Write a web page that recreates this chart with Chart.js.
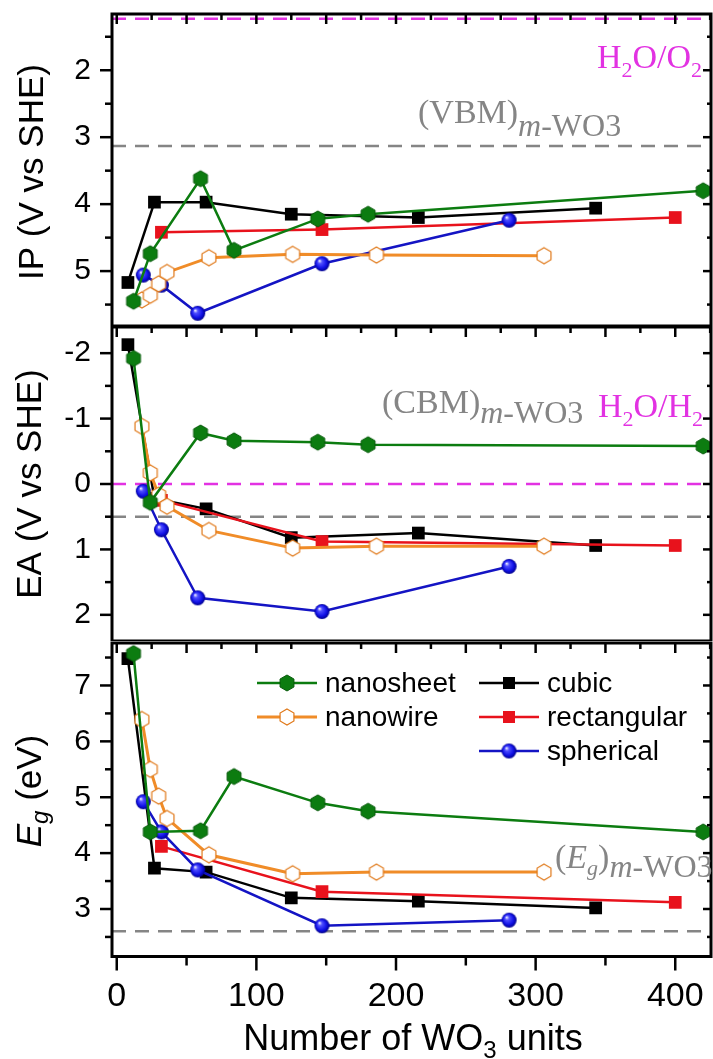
<!DOCTYPE html>
<html>
<head>
<meta charset="utf-8">
<script src="https://cdn.jsdelivr.net/npm/chart.js@4.4.1/dist/chart.umd.min.js"></script>
<style>
  body { margin: 0; background: #fff; }
  #wrap { position: relative; width: 713px; height: 1059px; overflow: hidden; }
  canvas { position: absolute; left: 0; }
</style>
</head>
<body>
<div id="wrap">
  <canvas id="cIP" width="713" height="326" style="top:0px"></canvas>
  <canvas id="cEA" width="713" height="315" style="top:326px"></canvas>
  <canvas id="cEg" width="713" height="418" style="top:641px"></canvas>
</div>
<script>
// x positions (number of WO3 units) per shape
const nanosheetX = [12, 24, 60, 84, 144, 180, 420];
const nanowireX = [18, 24, 30, 36, 66, 126, 186, 306];
const cubicX = [8, 27, 64, 125, 216, 343];
const rectX = [32, 147, 400];
const sphericalX = [19, 32, 58, 147, 281];

// IP (V vs SHE)
const nanosheetIP = [5.45, 4.74, 3.62, 4.69, 4.22, 4.15, 3.80];
const nanowireIP = [5.43, 5.36, 5.19, 5.02, 4.80, 4.75, 4.76, 4.77];
const cubicIP = [5.17, 3.97, 3.97, 4.15, 4.20, 4.06];
const rectIP = [4.42, 4.38, 4.20];
const sphericalIP = [5.06, 5.21, 5.63, 4.89, 4.24];

// EA (V vs SHE)
const nanosheetEA = [-1.92, 0.28, -0.78, -0.66, -0.64, -0.60, -0.58];
const nanowireEA = [-0.88, -0.17, 0.17, 0.34, 0.71, 0.98, 0.95, 0.95];
const cubicEA = [-2.13, 0.22, 0.38, 0.82, 0.75, 0.94];
const rectEA = [0.25, 0.88, 0.94];
const sphericalEA = [0.11, 0.70, 1.74, 1.95, 1.26];

// Eg (eV)
const nanosheetEg = [7.57, 4.38, 4.40, 5.37, 4.90, 4.75, 4.38];
const nanowireEg = [6.39, 5.50, 5.02, 4.62, 3.97, 3.63, 3.66, 3.66];
const cubicEg = [7.48, 3.73, 3.66, 3.20, 3.14, 3.02];
const rectEg = [4.12, 3.31, 3.12];
const sphericalEg = [4.92, 4.38, 3.70, 2.70, 2.80];

// reference levels
const ipWater = 1.23, ipVBM = 3.13;
const eaWater = 0, eaCBM = 0.5;
const egBulk = 2.6;

const xTicks = [0, 100, 200, 300, 400];
const ipTicks = [2, 3, 4, 5];
const eaTicks = [-2, -1, 0, 1, 2];
const egTicks = [3, 4, 5, 6, 7];

const X_MIN = -3.4, X_MAX = 425.6;

const GREEN = '#0c7c10';
const ORANGE = '#f08c28';
const RED = '#e8121c';
const BLUE = '#1414c4';
const MAG = '#e232e2';
const GRAY = '#858585';
const SANS = "'Liberation Sans', Arial, sans-serif";
const SERIF = "'Liberation Serif', 'Times New Roman', serif";

function hexMarker(fill, stroke, d, lw) {
  const c = document.createElement('canvas');
  c.width = c.height = d + 4;
  const g = c.getContext('2d');
  const cx = c.width / 2, r = d / 2;
  g.beginPath();
  for (let i = 0; i < 6; i++) {
    const a = -Math.PI / 2 + i * Math.PI / 3;
    const px = cx + r * Math.cos(a), py = cx + r * Math.sin(a);
    if (i == 0) g.moveTo(px, py); else g.lineTo(px, py);
  }
  g.closePath();
  g.fillStyle = fill;
  g.fill();
  g.lineWidth = lw;
  g.strokeStyle = stroke;
  g.stroke();
  return c;
}

function ballMarker(d) {
  const c = document.createElement('canvas');
  c.width = c.height = d + 2;
  const g = c.getContext('2d');
  const cx = c.width / 2, r = d / 2;
  const grad = g.createRadialGradient(cx - r * 0.35, cx - r * 0.4, r * 0.05, cx, cx, r);
  grad.addColorStop(0, '#eeeeff');
  grad.addColorStop(0.25, '#5050ff');
  grad.addColorStop(0.7, '#1010e6');
  grad.addColorStop(1, '#00008a');
  g.beginPath();
  g.arc(cx, cx, r, 0, Math.PI * 2);
  g.fillStyle = grad;
  g.fill();
  return c;
}

const hexGreen = hexMarker(GREEN, '#075a0a', 16, 1);
const hexOrange = hexMarker('#ffffff', '#e07818', 16, 1.2);
const ball = ballMarker(15);

function pts(xs, ys) {
  return xs.map((x, i) => ({ x: x, y: ys[i] }));
}

function buildSets(ns, nw, cu, re, sp, refs) {
  const sets = [
    { label: 'nanosheet', data: pts(nanosheetX, ns), borderColor: GREEN, pointStyle: hexGreen, order: 0 },
    { label: 'nanowire', data: pts(nanowireX, nw), borderColor: ORANGE, pointStyle: hexOrange, borderWidth: 3, order: 1 },
    { label: 'spherical', data: pts(sphericalX, sp), borderColor: BLUE, pointStyle: ball, order: 2 },
    { label: 'rectangular', data: pts(rectX, re), borderColor: RED, backgroundColor: RED, pointStyle: 'rect', order: 3 },
    { label: 'cubic', data: pts(cubicX, cu), borderColor: '#000', backgroundColor: '#000', pointStyle: 'rect', order: 4 }
  ];
  refs.forEach(r => {
    sets.push({
      label: '', data: [{ x: X_MIN, y: r[0] }, { x: X_MAX, y: r[0] }],
      borderColor: r[1], borderDash: [14, 9], borderWidth: 2.5, pointRadius: 0, order: 10
    });
  });
  return sets;
}

function drawRich(ctx, x, y, parts) {
  ctx.save();
  ctx.textBaseline = 'alphabetic';
  ctx.textAlign = 'left';
  parts.forEach(p => {
    ctx.font = p.f;
    ctx.fillStyle = p.c;
    ctx.fillText(p.t, x, y + (p.dy || 0));
    x += ctx.measureText(p.t).width;
  });
  ctx.restore();
  return x;
}

function richWidth(ctx, parts) {
  let w = 0;
  ctx.save();
  parts.forEach(p => { ctx.font = p.f; w += ctx.measureText(p.t).width; });
  ctx.restore();
  return w;
}

function drawVertical(ctx, cx, cy, parts, base) {
  ctx.save();
  ctx.translate(cx, cy);
  ctx.rotate(-Math.PI / 2);
  const w = richWidth(ctx, parts);
  drawRich(ctx, -w / 2, base, parts);
  ctx.restore();
}

function seg(ctx, x1, y1, x2, y2) {
  ctx.beginPath();
  ctx.moveTo(x1, y1);
  ctx.lineTo(x2, y2);
  ctx.stroke();
}

// box, inner/outer tick marks like the origin plot
const framePlugin = {
  id: 'frame',
  afterDraw(chart) {
    const ctx = chart.ctx, a = chart.chartArea;
    const xs = chart.scales.x, ys = chart.scales.y;
    ctx.save();
    ctx.strokeStyle = '#000';
    ctx.lineWidth = 2.5;
    const lo = Math.ceil(ys.min * 2), hi = Math.floor(ys.max * 2);
    for (let k = lo; k <= hi; k++) {
      const major = k % 2 == 0;
      const py = ys.getPixelForValue(k / 2);
      seg(ctx, a.left - (major ? 12 : 7), py, a.left, py);
      seg(ctx, a.right - (major ? 8 : 4), py, a.right, py);
    }
    for (let v = 0; v <= X_MAX; v += 25) {
      const px = xs.getPixelForValue(v);
      seg(ctx, px, a.top, px, a.top + (v % 50 == 0 ? 10 : 6));
    }
    if (chart.canvas.id == 'cEg') {
      for (let v = 0; v <= X_MAX; v += 50) {
        const px = xs.getPixelForValue(v);
        seg(ctx, px, a.bottom, px, a.bottom + (v % 100 == 0 ? 14 : 9));
      }
    }
    ctx.lineWidth = 3;
    ctx.strokeRect(a.left, a.top, a.right - a.left, a.bottom - a.top);
    ctx.restore();
  }
};

function makeConfig(sets, yMin, yMax, yTicks, reverse, padTop, showX, extra) {
  return {
    type: 'line',
    data: { datasets: sets },
    options: {
      responsive: false,
      animation: false,
      devicePixelRatio: 1,
      layout: { autoPadding: false, padding: { top: padTop, right: 2, left: 0, bottom: 0 } },
      elements: {
        line: { borderWidth: 2.5, tension: 0, fill: false },
        point: { radius: 9, borderWidth: 0, hoverRadius: 9 }
      },
      scales: {
        x: {
          type: 'linear', min: X_MIN, max: X_MAX, display: showX,
          afterBuildTicks: s => { s.ticks = xTicks.map(v => ({ value: v })); },
          afterFit: s => {
            s.height = showX ? 102.5 : 0;
            s.paddingLeft = 0;
            s.paddingRight = 0;
          },
          grid: { display: false, drawTicks: false },
          border: { display: false },
          ticks: { font: { family: SANS, size: 34 }, color: '#000', padding: 20, maxRotation: 0 }
        },
        y: {
          type: 'linear', min: yMin, max: yMax, reverse: reverse,
          afterBuildTicks: s => { s.ticks = yTicks.map(v => ({ value: v })); },
          afterFit: s => {
            s.width = 112;
            s.paddingTop = 0;
            s.paddingBottom = 0;
          },
          grid: { display: false, drawTicks: false },
          border: { display: false },
          ticks: { font: { family: SANS, size: 30 }, color: '#000', padding: 21 }
        }
      },
      plugins: { legend: { display: false }, tooltip: { enabled: false } }
    },
    plugins: [framePlugin, extra]
  };
}

const notesIP = {
  id: 'notesIP',
  afterDraw(chart) {
    const ctx = chart.ctx;
    const big = '34px ' + SERIF, sub = '22px ' + SERIF;
    drawRich(ctx, 597, 68, [
      { t: 'H', f: big, c: MAG }, { t: '2', f: sub, c: MAG, dy: 9 },
      { t: 'O/O', f: big, c: MAG }, { t: '2', f: sub, c: MAG, dy: 9 }
    ]);
    drawRich(ctx, 418, 123, [
      { t: '(VBM)', f: big, c: GRAY },
      { t: 'm', f: 'italic 32px ' + SERIF, c: GRAY, dy: 13 },
      { t: '-WO3', f: '32px ' + SERIF, c: GRAY, dy: 13 }
    ]);
    drawVertical(ctx, 30, 172, [{ t: 'IP (V vs SHE)', f: '35px ' + SANS, c: '#000' }], 12.5);
  }
};

const notesEA = {
  id: 'notesEA',
  afterDraw(chart) {
    const ctx = chart.ctx;
    const big = '34px ' + SERIF, sub = '22px ' + SERIF;
    drawRich(ctx, 382, 413 - 326, [
      { t: '(CBM)', f: big, c: GRAY },
      { t: 'm', f: 'italic 32px ' + SERIF, c: GRAY, dy: 10 },
      { t: '-WO3', f: '32px ' + SERIF, c: GRAY, dy: 10 }
    ]);
    drawRich(ctx, 598, 417 - 326, [
      { t: 'H', f: big, c: MAG }, { t: '2', f: sub, c: MAG, dy: 9 },
      { t: 'O/H', f: big, c: MAG }, { t: '2', f: sub, c: MAG, dy: 9 }
    ]);
    drawVertical(ctx, 28, 484 - 326, [{ t: 'EA (V vs SHE)', f: '35px ' + SANS, c: '#000' }], 12.5);
  }
};

const legendItems = [
  { i: 0, col: 0, row: 0 },
  { i: 1, col: 0, row: 1 },
  { i: 4, col: 1, row: 0 },
  { i: 3, col: 1, row: 1 },
  { i: 2, col: 1, row: 2 }
];

const notesEg = {
  id: 'notesEg',
  afterDraw(chart) {
    const ctx = chart.ctx;
    const off = 641;
    drawRich(ctx, 555, 868 - off, [
      { t: '(', f: '34px ' + SERIF, c: GRAY },
      { t: 'E', f: 'italic 34px ' + SERIF, c: GRAY },
      { t: 'g', f: 'italic 22px ' + SERIF, c: GRAY, dy: 7 },
      { t: ')', f: '34px ' + SERIF, c: GRAY },
      { t: 'm', f: 'italic 32px ' + SERIF, c: GRAY, dy: 9 },
      { t: '-WO3', f: '32px ' + SERIF, c: GRAY, dy: 9 }
    ]);
    drawVertical(ctx, 28, 791 - off, [
      { t: 'E', f: 'italic 35px ' + SANS, c: '#000' },
      { t: 'g', f: 'italic 24px ' + SANS, c: '#000', dy: 7 },
      { t: ' (eV)', f: '35px ' + SANS, c: '#000' }
    ], 12.5);
    const tw = richWidth(ctx, [{ t: 'Number of WO', f: '36px ' + SANS }, { t: '3', f: '24px ' + SANS }, { t: ' units', f: '36px ' + SANS }]);
    drawRich(ctx, 413 - tw / 2, 1050 - off, [
      { t: 'Number of WO', f: '36px ' + SANS, c: '#000' },
      { t: '3', f: '24px ' + SANS, c: '#000', dy: 8 },
      { t: ' units', f: '36px ' + SANS, c: '#000' }
    ]);

    // legend, two columns
    legendItems.forEach(it => {
      const ds = chart.data.datasets[it.i];
      const x0 = it.col == 0 ? 257 : 479;
      const y = 683 - off + it.row * 34;
      ctx.save();
      ctx.strokeStyle = ds.borderColor;
      ctx.lineWidth = ds.borderWidth || 2.5;
      seg(ctx, x0, y, x0 + 60, y);
      const cx = x0 + 30;
      if (ds.pointStyle == 'rect') {
        ctx.fillStyle = ds.backgroundColor;
        ctx.fillRect(cx - 6, y - 6, 12, 12);
      } else {
        const img = ds.pointStyle;
        ctx.drawImage(img, cx - img.width / 2, y - img.height / 2);
      }
      ctx.font = '28px ' + SANS;
      ctx.fillStyle = '#000';
      ctx.textBaseline = 'middle';
      ctx.fillText(ds.label, x0 + 68, y + 1);
      ctx.restore();
    });
  }
};

new Chart(document.getElementById('cIP'), makeConfig(
  buildSets(nanosheetIP, nanowireIP, cubicIP, rectIP, sphericalIP, [[ipWater, MAG], [ipVBM, GRAY]]),
  1.16, 5.82, ipTicks, true, 14, false, notesIP));

new Chart(document.getElementById('cEA'), makeConfig(
  buildSets(nanosheetEA, nanowireEA, cubicEA, rectEA, sphericalEA, [[eaWater, MAG], [eaCBM, GRAY]]),
  -2.4, 2.4, eaTicks, true, 1, false, notesEA));

new Chart(document.getElementById('cEg'), makeConfig(
  buildSets(nanosheetEg, nanowireEg, cubicEg, rectEg, sphericalEg, [[egBulk, GRAY]]),
  2.15, 7.76, egTicks, false, 2, true, notesEg));
</script>
</body>
</html>
